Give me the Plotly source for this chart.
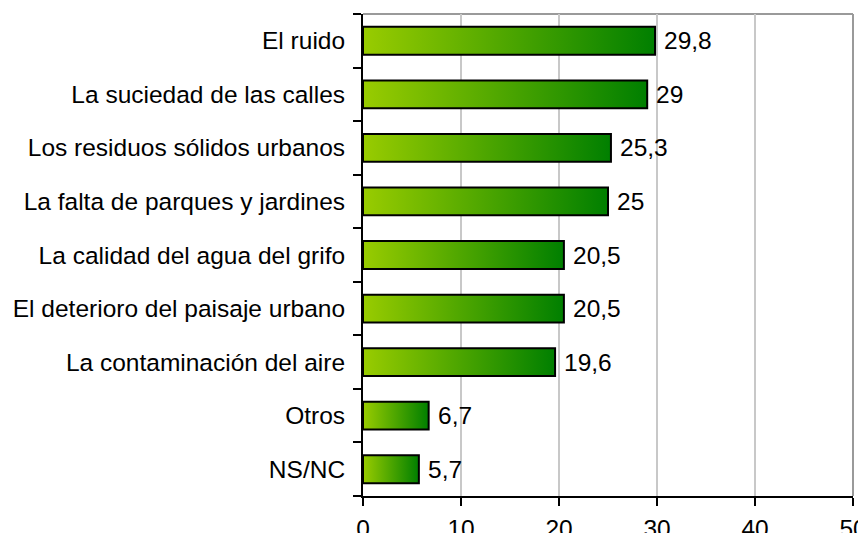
import plotly.graph_objects as go

categories = ["El ruido", "La suciedad de las calles", "Los residuos sólidos urbanos",
              "La falta de parques y jardines", "La calidad del agua del grifo",
              "El deterioro del paisaje urbano", "La contaminación del aire",
              "Otros", "NS/NC"]
values = [29.8, 29, 25.3, 25, 20.5, 20.5, 19.6, 6.7, 5.7]
x_ticks = [0, 10, 20, 30, 40, 50]

FONT = "Liberation Sans, Arial, sans-serif"
FS = 24.5
n = len(categories)
pos = [n - 1 - i for i in range(n)]  # top to bottom
half = 0.26

fig = go.Figure()
for cat, v, p in zip(categories, values, pos):
    fig.add_trace(go.Scatter(
        x=[0, v, v, 0, 0],
        y=[p - half, p - half, p + half, p + half, p - half],
        mode="lines", fill="toself",
        fillgradient=dict(type="horizontal",
                          colorscale=[[0, "#99cc00"], [1, "#007f00"]]),
        line=dict(color="black", width=2),
        hoverinfo="skip", showlegend=False, name=cat,
    ))

annotations = []
for v, p in zip(values, pos):
    annotations.append(dict(
        x=v, y=p, xref="x", yref="y", text=f"{v:g}".replace(".", ","),
        showarrow=False, xanchor="left", yanchor="middle", xshift=7,
        font=dict(family=FONT, size=FS, color="black")))

fig.update_layout(
    width=858, height=525,
    margin=dict(l=355, r=13, t=6, b=37, autoexpand=False),
    plot_bgcolor="white", paper_bgcolor="white",
    font=dict(family=FONT, size=FS, color="black"),
    showlegend=False,
    annotations=annotations,
    shapes=[
        dict(type="line", xref="paper", yref="paper", x0=0, x1=1, y0=1, y1=1,
             line=dict(color="#9a9a9a", width=2), layer="below"),
        dict(type="line", xref="paper", yref="paper", x0=1, x1=1, y0=0, y1=1,
             line=dict(color="#9a9a9a", width=2), layer="below"),
    ],
)
fig.update_xaxes(
    range=[0, 50], tickvals=x_ticks, showgrid=True, gridcolor="#c8c8c8", gridwidth=2,
    showline=True, linecolor="black", linewidth=2, ticks="outside", ticklen=8,
    tickwidth=2, tickcolor="black", zeroline=False, ticklabelstandoff=2,
    automargin=False, ticklabeloverflow="allow",
    tickfont=dict(family=FONT, size=FS, color="black"), fixedrange=True,
)
fig.update_yaxes(
    range=[-0.5, n - 0.5], tickvals=pos, ticktext=categories, ticks="",
    showgrid=False, zeroline=False, showline=True, linecolor="black", linewidth=2,
    ticklabelstandoff=11, automargin=False,
    minor=dict(tickvals=[p - 0.5 for p in range(n + 1)], ticks="outside", ticklen=8,
               tickwidth=2, tickcolor="black", showgrid=False),
    tickfont=dict(family=FONT, size=FS, color="black"), fixedrange=True,
)

fig.write_html("out.html")
